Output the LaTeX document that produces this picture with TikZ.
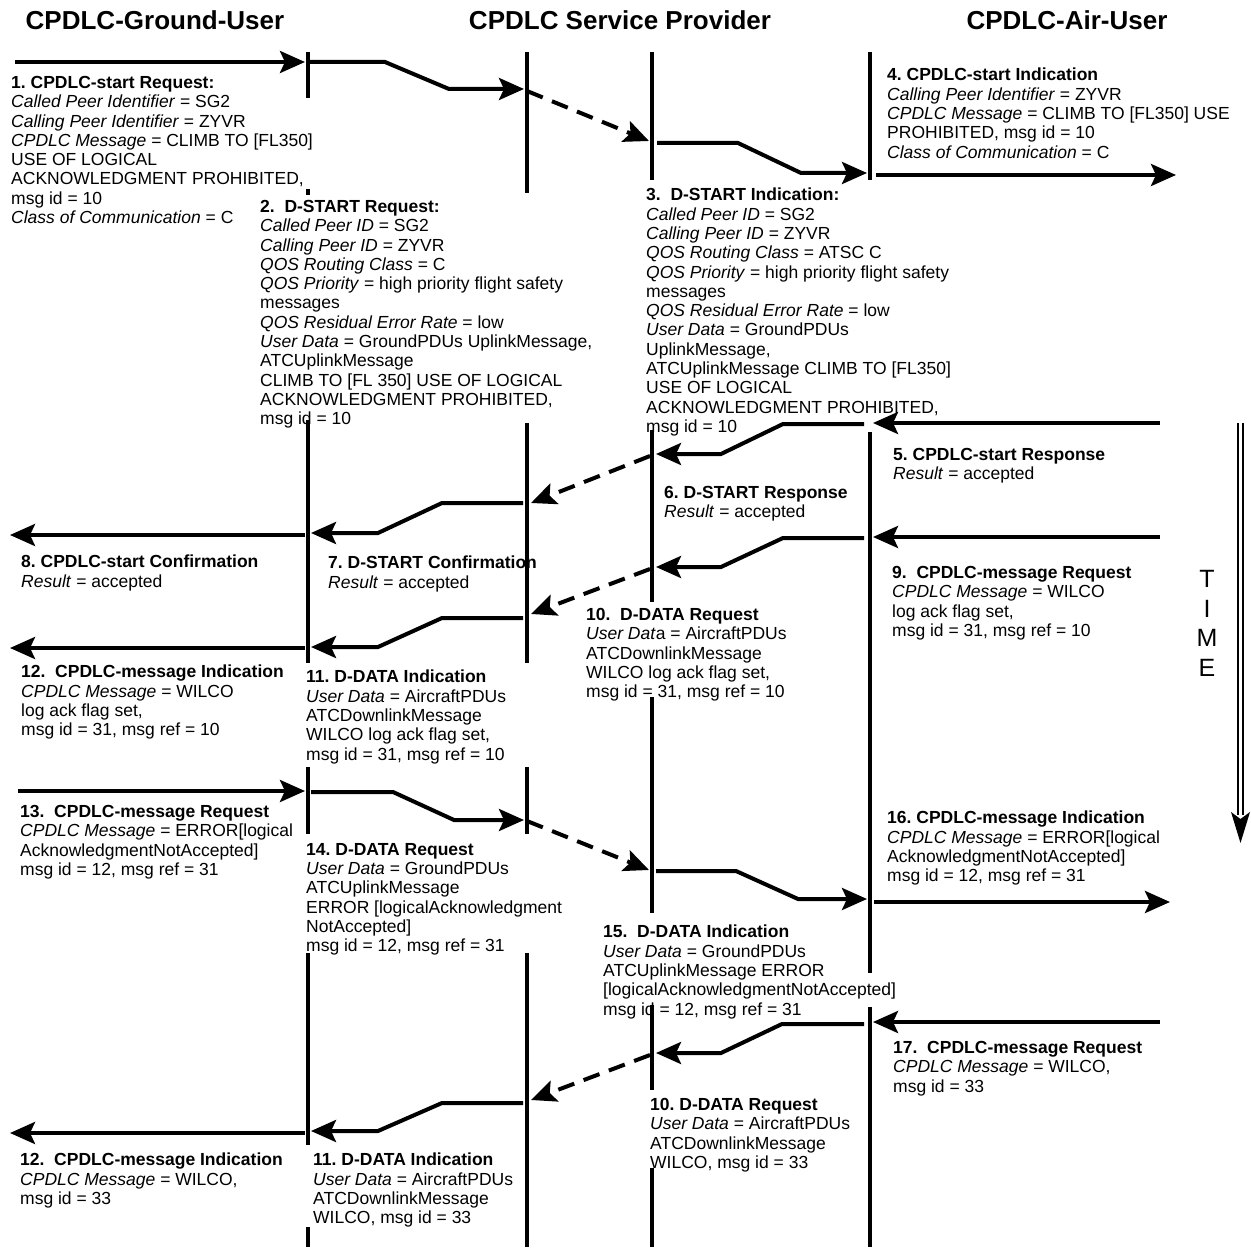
\documentclass[tikz,border=0pt]{standalone}
\usepackage{fontspec}
\setmainfont{Liberation Sans}
\frenchspacing
\usetikzlibrary{arrows.meta}

\begin{document}
\begin{tikzpicture}[
    x=1pt, y=-1pt,
    hdr/.style={font=\fontsize{26}{30}\selectfont\bfseries},
    msg/.style={anchor=north west, align=left, inner sep=0pt,
                font=\fontsize{17.5}{19.3}\selectfont},
    life/.style={line width=4pt},
    arr/.style={line width=4pt, -{Stealth[length=25pt, width=22pt, inset=5pt]}},
    relay/.style={arr, dash pattern=on 17pt off 10pt}
  ]
    \path[fill=white] (0,0) rectangle (1251,1249);

    \node[hdr] (gnd) at (155,20)  {CPDLC-Ground-User};
    \node[hdr] (sp)  at (620,20)  {CPDLC Service Provider};
    \node[hdr] (air) at (1067,20) {CPDLC-Air-User};

    %--- lifelines (broken where the text runs over them) ---
    \draw[life] (308,52) -- (308,98)   (308,189) -- (308,195)  (308,420) -- (308,663)
                (308,767) -- (308,834) (308,953) -- (308,1145) (308,1227) -- (308,1247);
    \draw[life] (527,52) -- (527,193)  (527,423) -- (527,663)
                (527,767) -- (527,834) (527,953) -- (527,1247);
    \draw[life] (652,52) -- (652,180)  (652,430) -- (652,602)  (652,697) -- (652,913)
                (652,1005) -- (652,1090) (652,1168) -- (652,1247);
    \draw[life] (870,52) -- (870,180)  (870,432) -- (870,973)  (870,1007) -- (870,1247);

    %--- start request / indication ---
    \draw[arr]   (15,62) -- (305,62);
    \draw[arr]   (310,62) -- (385,62) -- (449,89) -- (524,89);
    \draw[relay] (527,91) -- (649,141);
    \draw[arr]   (657,143) -- (738,143) -- (801,173) -- (867,173);
    \draw[arr]   (876,175) -- (1176,175);

    %--- start response / confirmation ---
    \draw[arr]   (1160,423) -- (873,423);
    \draw[arr]   (864,424) -- (783,424) -- (721,454) -- (656,454);
    \draw[relay] (650,456) -- (531,503);
    \draw[arr]   (523,503) -- (442,503) -- (378,533) -- (311,533);
    \draw[arr]   (305,535) -- (10,535);

    %--- WILCO downlink ---
    \draw[arr]   (1160,537) -- (873,537);
    \draw[arr]   (864,538) -- (783,538) -- (721,567) -- (656,567);
    \draw[relay] (650,569) -- (531,614);
    \draw[arr]   (523,618) -- (442,618) -- (378,647) -- (311,647);
    \draw[arr]   (305,648) -- (10,648);

    %--- ERROR uplink ---
    \draw[arr]   (18,791) -- (305,791);
    \draw[arr]   (311,792) -- (393,792) -- (454,820) -- (524,820);
    \draw[relay] (527,821) -- (649,870);
    \draw[arr]   (656,871) -- (736,871) -- (798,899) -- (867,899);
    \draw[arr]   (874,902) -- (1170,902);

    %--- second WILCO downlink ---
    \draw[arr]   (1160,1022) -- (873,1022);
    \draw[arr]   (864,1024) -- (782,1024) -- (721,1053) -- (656,1053);
    \draw[relay] (650,1055) -- (531,1100);
    \draw[arr]   (523,1103) -- (442,1103) -- (378,1131) -- (311,1131);
    \draw[arr]   (305,1133) -- (10,1133);

    %--- time axis ---
    \node[anchor=north, align=center, inner sep=0pt,
          font=\fontsize{25}{29.7}\selectfont] (time) at (1207,570) {T\\I\\M\\E};
    \draw[line width=2.2pt] (1238,423) -- (1238,815)  (1243,423) -- (1243,815);
    \fill (1231,812) -- (1240.5,843) -- (1250,812) -- (1240.5,819) -- cycle;

    %--- primitives ---
    \node[msg] (m1) at (11,76) {\textbf{1. CPDLC-start Request:}\\
        \textit{Called Peer Identifier} = SG2\\
        \textit{Calling Peer Identifier} = ZYVR\\
        \textit{CPDLC Message} = CLIMB TO [FL350]\\
        USE OF LOGICAL\\
        ACKNOWLEDGMENT PROHIBITED,\\
        msg id = 10\\
        \textit{Class of Communication} = C};

    \node[msg] (m2) at (260,200) {\textbf{2.\ \ D-START Request:}\\
        \textit{Called Peer ID} = SG2\\
        \textit{Calling Peer ID} = ZYVR\\
        \textit{QOS Routing Class} = C\\
        \textit{QOS Priority} = high priority flight safety\\
        messages\\
        \textit{QOS Residual Error Rate} = low\\
        \textit{User Data} = GroundPDUs UplinkMessage,\\
        ATCUplinkMessage\\
        CLIMB TO [FL 350] USE OF LOGICAL\\
        ACKNOWLEDGMENT PROHIBITED,\\
        msg id = 10};

    \node[msg] (m3) at (646,188) {\textbf{3.\ \ D-START Indication:}\\
        \textit{Called Peer ID} = SG2\\
        \textit{Calling Peer ID} = ZYVR\\
        \textit{QOS Routing Class} = ATSC C\\
        \textit{QOS Priority} = high priority flight safety\\
        messages\\
        \textit{QOS Residual Error Rate} = low\\
        \textit{User Data} = GroundPDUs\\
        UplinkMessage,\\
        ATCUplinkMessage CLIMB TO [FL350]\\
        USE OF LOGICAL\\
        ACKNOWLEDGMENT PROHIBITED,\\
        msg id = 10};

    \node[msg] (m4) at (887,68) {\textbf{4. CPDLC-start Indication}\\
        \textit{Calling Peer Identifier} = ZYVR\\
        \textit{CPDLC Message} = CLIMB TO [FL350] USE\\
        PROHIBITED, msg id = 10\\
        \textit{Class of Communication} = C};

    \node[msg] (m5) at (893,448) {\textbf{5. CPDLC-start Response}\\
        \textit{Result} = accepted};
    \node[msg] (m6) at (664,486) {\textbf{6. D-START Response}\\
        \textit{Result} = accepted};
    \node[msg] (m7) at (328,556) {\textbf{7. D-START Confirmation}\\
        \textit{Result} = accepted};
    \node[msg] (m8) at (21,555) {\textbf{8. CPDLC-start Confirmation}\\
        \textit{Result} = accepted};

    \node[msg] (m9) at (892,566) {\textbf{9.\ \ CPDLC-message Request}\\
        \textit{CPDLC Message} = WILCO\\
        log ack flag set,\\
        msg id = 31, msg ref = 10};
    \node[msg] (m10) at (586,608) {\textbf{10.\ \ D-DATA Request}\\
        \textit{User Dat}a = AircraftPDUs\\
        ATCDownlinkMessage\\
        WILCO log ack flag set,\\
        msg id = 31, msg ref = 10};
    \node[msg] (m11) at (306,670) {\textbf{11. D-DATA Indication}\\
        \textit{User Data} = AircraftPDUs\\
        ATCDownlinkMessage\\
        WILCO log ack flag set,\\
        msg id = 31, msg ref = 10};
    \node[msg] (m12) at (21,665) {\textbf{12.\ \ CPDLC-message Indication}\\
        \textit{CPDLC Message} = WILCO\\
        log ack flag set,\\
        msg id = 31, msg ref = 10};

    \node[msg] (m13) at (20,805) {\textbf{13.\ \ CPDLC-message Request}\\
        \textit{CPDLC Message} = ERROR[logical\\
        AcknowledgmentNotAccepted]\\
        msg id = 12, msg ref = 31};
    \node[msg] (m14) at (306,843) {\textbf{14. D-DATA Request}\\
        \textit{User Data} = GroundPDUs\\
        ATCUplinkMessage\\
        ERROR [logicalAcknowledgment\\
        NotAccepted]\\
        msg id = 12, msg ref = 31};
    \node[msg] (m15) at (603,925) {\textbf{15.\ \ D-DATA Indication}\\
        \textit{User Data} = GroundPDUs\\
        ATCUplinkMessage ERROR\\
        {[}logicalAcknowledgmentNotAccepted]\\
        msg id = 12, msg ref = 31};
    \node[msg] (m16) at (887,811) {\textbf{16. CPDLC-message Indication}\\
        \textit{CPDLC Message} = ERROR[logical\\
        AcknowledgmentNotAccepted]\\
        msg id = 12, msg ref = 31};

    \node[msg] (m17) at (893,1041) {\textbf{17.\ \ CPDLC-message Request}\\
        \textit{CPDLC Message} = WILCO,\\
        msg id = 33};
    \node[msg] (m10b) at (650,1098) {\textbf{10. D-DATA Request}\\
        \textit{User Data} = AircraftPDUs\\
        ATCDownlinkMessage\\
        WILCO, msg id = 33};
    \node[msg] (m11b) at (313,1153) {\textbf{11. D-DATA Indication}\\
        \textit{User Data} = AircraftPDUs\\
        ATCDownlinkMessage\\
        WILCO, msg id = 33};
    \node[msg] (m12b) at (20,1153) {\textbf{12.\ \ CPDLC-message Indication}\\
        \textit{CPDLC Message} = WILCO,\\
        msg id = 33};
\end{tikzpicture}
\end{document}
